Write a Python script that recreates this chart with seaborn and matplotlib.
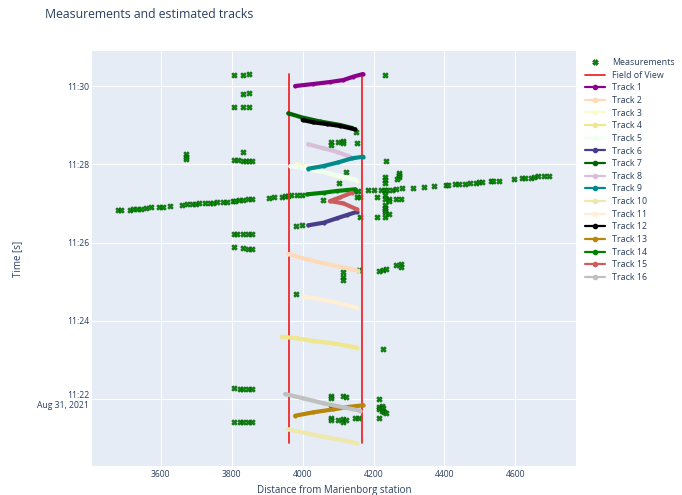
import pandas as pd
import matplotlib
matplotlib.use("Agg")
import matplotlib.pyplot as plt
import matplotlib.dates as mdates
from matplotlib.lines import Line2D
import seaborn as sns

BASE = pd.Timestamp("2021-08-31 11:20:00")

# Raw detections: distance from Marienborg station [m], seconds after 11:20:00
meas_row_d = [3478, 3487, 3512, 3523, 3532, 3544, 3557, 3573, 3594, 3607, 3626, 3659, 3675, 3687,
              3700, 3707, 3725, 3739, 3748, 3758, 3775, 3786, 3803, 3810, 3820, 3831, 3847, 3857,
              3905, 3920, 3941, 3951, 3960, 3967, 3984, 3999, 4145, 4157, 4183, 4200, 4220, 4232,
              4237, 4251, 4264, 4281, 4310, 4343, 4371, 4405, 4411, 4429, 4440, 4457, 4473, 4489,
              4497, 4505, 4531, 4538, 4555, 4596, 4620, 4627, 4643, 4653, 4665, 4681, 4694]
meas_row_t = [409.4, 409.4, 410.3, 411.4, 411.8, 411.8, 413.4, 414.0, 414.9, 414.9, 416.0, 417.5, 418.6, 419.0,
              419.5, 420.1, 420.6, 421.0, 421.0, 422.1, 422.6, 422.6, 423.6, 424.1, 425.2, 425.2, 426.3, 426.7,
              428.7, 429.8, 430.2, 430.9, 430.9, 432.4, 432.8, 433.3, 439.4, 439.4, 440.1, 440.1, 440.1, 440.5,
              440.5, 441.0, 441.6, 443.1, 443.1, 445.1, 446.6, 448.2, 448.2, 449.3, 449.3, 450.2, 451.3, 451.3,
              452.3, 452.8, 453.9, 453.9, 454.8, 457.8, 458.5, 458.9, 459.4, 460.9, 461.5, 461.5, 462.0]

meas_left_d = [3807, 3831, 3848, 3831, 3848, 3807, 3831, 3848, 3831, 3807, 3819, 3831, 3840, 3848, 3857,
               3671, 3671, 3671, 3807, 3814, 3831, 3846, 3857, 3807, 3831, 3846, 3857,
               3807, 3824, 3831, 3846, 3857, 3807, 3822, 3831, 3846, 3857]
meas_left_t = [616.4, 617.3, 617.9, 588.2, 588.8, 568.3, 567.8, 567.3, 498.3, 487.0, 486.1, 485.4, 485.4, 485.4, 485.4,
               495.0, 491.1, 488.1, 372.6, 372.6, 373.5, 373.5, 373.5, 353.1, 351.1, 350.5, 350.5,
               136.4, 134.9, 134.9, 134.9, 134.9, 84.3, 84.3, 84.3, 84.3, 84.3]

meas_mid_d = [4080, 4080, 4101, 4113, 4113, 4153, 4151, 4123, 4104, 4057, 4154, 4162, 4162, 3982, 3999,
              4113, 4113, 4113, 4160, 3982, 4080, 4080, 4113, 4121, 4080, 4080, 4080, 4101, 4113, 4113,
              4123, 4149, 4160]
meas_mid_t = [514.1, 509.1, 514.6, 515.7, 512.1, 512.1, 529.9, 468.1, 451.7, 425.2, 430.2, 429.3, 399.6, 385.8, 387.3,
              315.2, 307.6, 302.5, 317.8, 281.0, 124.6, 121.1, 124.6, 122.6, 108.2, 91.3, 87.8, 87.8, 89.3, 85.2,
              87.8, 90.4, 90.4]

meas_right_d = [4232, 4235, 4232, 4232, 4232, 4271, 4271, 4271, 4267, 4211, 4232, 4232, 4243, 4243, 4264,
                4277, 4232, 4232, 4232, 4232, 4245, 4232, 4211, 4215, 4228, 4235, 4264, 4277, 4277, 4228,
                4215, 4215, 4215, 4223, 4228, 4223, 4230, 4235, 4215]
meas_right_t = [617.3, 485.0, 460.0, 455.9, 451.7, 466.1, 463.1, 460.0, 456.9, 429.3, 432.4, 426.3, 426.3, 424.1, 426.3,
                426.3, 417.1, 412.9, 409.8, 406.8, 403.7, 399.6, 398.7, 315.8, 317.8, 319.8, 325.0, 327.0, 322.9, 196.2,
                120.0, 108.2, 104.2, 109.3, 105.8, 102.1, 100.5, 98.1, 90.4]

# Field of view boundaries
fov_d = [3962, 4167]
fov_t = [52.0, 618.5]

# Estimated tracks
track01_d = [3979, 4030, 4077, 4115, 4143, 4170]
track01_t = [600.0, 603.1, 606.1, 609.2, 614.3, 618.4]
track02_d = [3960, 4012, 4059, 4106, 4157]
track02_t = [342.4, 334.2, 328.1, 322.9, 316.8]
track03_d = [3984, 4030, 4087, 4153]
track03_t = [480.4, 472.3, 463.5, 454.8]
track04_d = [3941, 3984, 4030, 4087, 4153]
track04_t = [215.6, 213.1, 209.0, 205.4, 198.7]
track05_d = [3965, 4030, 4096, 4148]
track05_t = [477.3, 471.2, 463.5, 456.9]
track06_d = [4016, 4059, 4096, 4125, 4154]
track06_t = [386.4, 390.4, 397.1, 402.2, 407.2]
track07_d = [3960, 3999, 4049, 4106, 4140]
track07_t = [558.1, 551.7, 545.6, 540.2, 535.6]
track08_d = [4016, 4059, 4096, 4134]
track08_t = [510.6, 504.5, 499.2, 491.6]
track09_d = [4016, 4059, 4101, 4139, 4171]
track09_t = [473.2, 477.3, 483.0, 489.1, 491.6]
track10_d = [3960, 4012, 4068, 4125, 4154]
track10_t = [73.5, 67.4, 61.3, 55.6, 52.1]
track11_d = [4002, 4049, 4096, 4153]
track11_t = [276.9, 273.4, 267.7, 260.0]
track12_d = [4000, 4030, 4068, 4106, 4148]
track12_t = [547.9, 544.3, 541.7, 538.7, 533.6]
track13_d = [3979, 4030, 4087, 4134, 4171]
track13_t = [94.4, 99.6, 104.2, 108.2, 110.4]
track14_d = [4012, 4059, 4096, 4125, 4148]
track14_t = [433.9, 436.4, 439.0, 440.5, 441.6]
track15_d = [4153, 4115, 4077, 4106, 4139]
track15_t = [410.9, 420.1, 423.6, 429.3, 436.4]
track16_d = [3951, 4002, 4059, 4115, 4162]
track16_t = [127.7, 121.1, 113.4, 107.3, 102.1]

track_labels = [f"Track {i}" for i in range(1, 17)]
track_colors = ["#8B008B", "#FFDAB9", "#FAFAD2", "#F0E68C", "#F0FFF0", "#483D8B", "#006400", "#D8BFD8",
                "#008B8B", "#EEE8AA", "#FFEFD5", "#000000", "#B8860B", "#008000", "#CD5C5C", "#C0C0C0"]
track_d = [track01_d, track02_d, track03_d, track04_d, track05_d, track06_d, track07_d, track08_d,
           track09_d, track10_d, track11_d, track12_d, track13_d, track14_d, track15_d, track16_d]
track_t = [track01_t, track02_t, track03_t, track04_t, track05_t, track06_t, track07_t, track08_t,
           track09_t, track10_t, track11_t, track12_t, track13_t, track14_t, track15_t, track16_t]


def to_time(seconds):
    return BASE + pd.to_timedelta(pd.Series(seconds, dtype=float), unit="s")


TEXT = "#2a3f5f"
sns.set_style("darkgrid", {"axes.facecolor": "#E5ECF6", "grid.color": "white"})
plt.rcParams["font.family"] = ["Open Sans", "DejaVu Sans"]

fig = plt.figure(figsize=(6.82, 4.95), dpi=100)
ax = fig.add_axes([92 / 682, 29 / 495, 484 / 682, 415 / 495])

meas = pd.DataFrame({
    "distance": meas_row_d + meas_left_d + meas_mid_d + meas_right_d,
    "time": to_time(meas_row_t + meas_left_t + meas_mid_t + meas_right_t),
})
sns.scatterplot(data=meas, x="distance", y="time", marker="X", s=16, color="#0a8a0a",
                edgecolor="#005a00", linewidth=0.4, ax=ax, legend=False, zorder=3)

fov = pd.DataFrame({
    "distance": [fov_d[0], fov_d[0], fov_d[1], fov_d[1]],
    "time": to_time([fov_t[0], fov_t[1], fov_t[0], fov_t[1]]),
    "side": ["left", "left", "right", "right"],
})
sns.lineplot(data=fov, x="distance", y="time", units="side", estimator=None, sort=False,
             color="#EE2A2A", linewidth=1.3, ax=ax, legend=False, zorder=4)

for label, color, d, t in zip(track_labels, track_colors, track_d, track_t):
    df = pd.DataFrame({"distance": d, "time": to_time(t)})
    sns.lineplot(data=df, x="distance", y="time", estimator=None, sort=False, color=color,
                 linewidth=3.0, marker="o", markersize=3, markeredgewidth=0,
                 ax=ax, legend=False, zorder=5)

ax.set_xlim(3406, 4771)
ax.set_ylim(mdates.date2num(BASE + pd.Timedelta(seconds=17.3)),
            mdates.date2num(BASE + pd.Timedelta(seconds=653.7)))

ax.set_xticks([3600, 3800, 4000, 4200, 4400, 4600])
tick_times = [BASE + pd.Timedelta(minutes=m) for m in (2, 4, 6, 8, 10)]
ax.set_yticks([mdates.date2num(tt) for tt in tick_times])
ylabels = [tt.strftime("%H:%M") for tt in tick_times]
ylabels[0] = ylabels[0] + "\n" + tick_times[0].strftime("%b %d, %Y")
ax.set_yticklabels(ylabels)

ax.tick_params(axis="both", length=0, labelsize=6.2, labelcolor=TEXT)
ax.tick_params(axis="x", pad=3)
ax.tick_params(axis="y", pad=2)
ax.grid(True, color="white", linewidth=0.8)
for sp in ax.spines.values():
    sp.set_visible(False)

ax.set_xlabel("Distance from Marienborg station", fontsize=7, color=TEXT, va="center")
ax.xaxis.set_label_coords(0.5, -(490 - 466) / 415)
ax.set_ylabel("Time [s]", fontsize=7, color=TEXT, va="center")
ax.yaxis.set_label_coords(-(92 - 18) / 484, 0.5)

fig.text(45 / 682, 1 - 14 / 495, "Measurements and estimated tracks", fontsize=8.85,
         color=TEXT, va="center", ha="left")

handles = [Line2D([], [], marker="X", linestyle="none", color="#0a8a0a", markeredgecolor="#005a00",
                  markeredgewidth=0.4, markersize=4),
           Line2D([], [], color="#EE2A2A", linewidth=1.3)]
for color in track_colors:
    handles.append(Line2D([], [], color=color, linewidth=1.6, marker="o", markersize=3))
labels = ["Measurements", "Field of View"] + track_labels
leg = fig.legend(handles, labels, loc="upper left", bbox_to_anchor=(585 / 682, 1 - 58 / 495),
                 frameon=False, fontsize=6.4, handlelength=2.3, handletextpad=0.75,
                 labelspacing=0.41, borderaxespad=0, borderpad=0)
for txt in leg.get_texts():
    txt.set_color(TEXT)

fig.savefig("out.png", dpi=100)
